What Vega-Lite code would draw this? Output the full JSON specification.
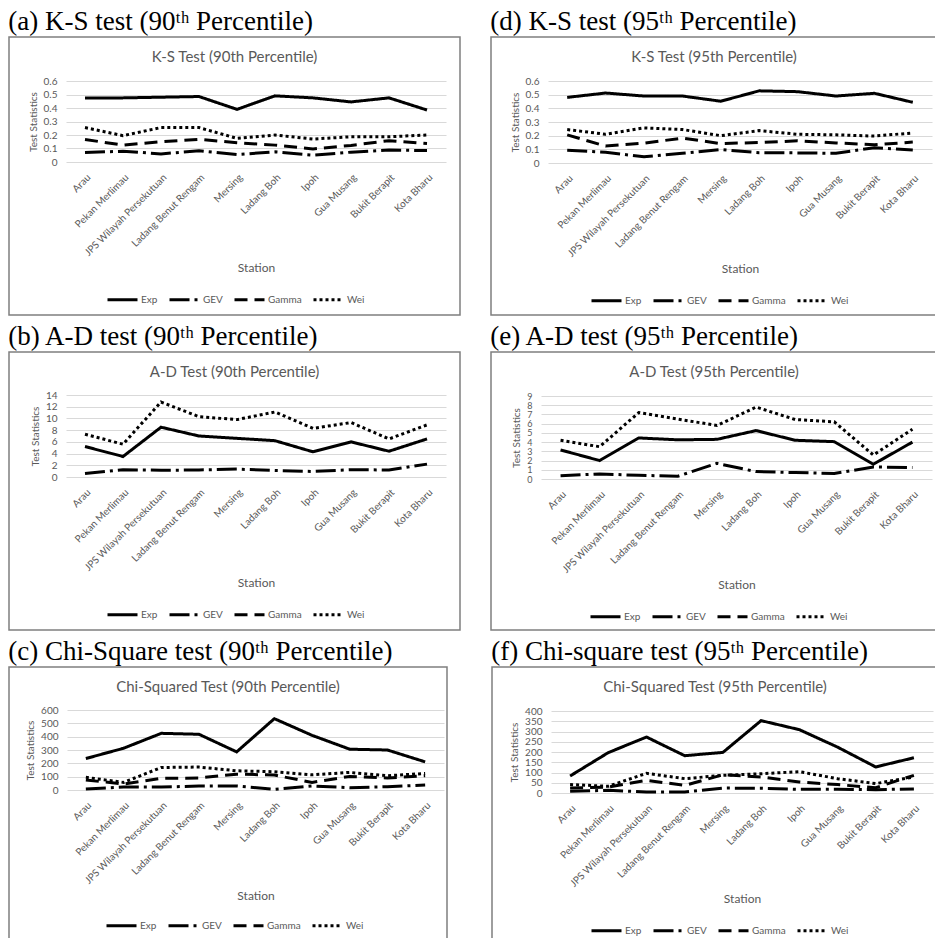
{
"$schema": "https://vega.github.io/schema/vega-lite/v6.json",
"padding": {"left": 8, "top": 8, "right": 0, "bottom": 0},
"background": "white",
"datasets": {
"ks90": [
{"station":"Arau","dist":"Exp","value":0.475},{"station":"Pekan Merlimau","dist":"Exp","value":0.475},{"station":"JPS Wilayah Persekutuan","dist":"Exp","value":0.48},{"station":"Ladang Benut Rengam","dist":"Exp","value":0.485},{"station":"Mersing","dist":"Exp","value":0.39},{"station":"Ladang Boh","dist":"Exp","value":0.49},{"station":"Ipoh","dist":"Exp","value":0.475},{"station":"Gua Musang","dist":"Exp","value":0.445},{"station":"Bukit Berapit","dist":"Exp","value":0.475},{"station":"Kota Bharu","dist":"Exp","value":0.385},
{"station":"Arau","dist":"GEV","value":0.07},{"station":"Pekan Merlimau","dist":"GEV","value":0.08},{"station":"JPS Wilayah Persekutuan","dist":"GEV","value":0.06},{"station":"Ladang Benut Rengam","dist":"GEV","value":0.083},{"station":"Mersing","dist":"GEV","value":0.055},{"station":"Ladang Boh","dist":"GEV","value":0.075},{"station":"Ipoh","dist":"GEV","value":0.05},{"station":"Gua Musang","dist":"GEV","value":0.073},{"station":"Bukit Berapit","dist":"GEV","value":0.088},{"station":"Kota Bharu","dist":"GEV","value":0.085},
{"station":"Arau","dist":"Gamma","value":0.167},{"station":"Pekan Merlimau","dist":"Gamma","value":0.125},{"station":"JPS Wilayah Persekutuan","dist":"Gamma","value":0.15},{"station":"Ladang Benut Rengam","dist":"Gamma","value":0.168},{"station":"Mersing","dist":"Gamma","value":0.143},{"station":"Ladang Boh","dist":"Gamma","value":0.125},{"station":"Ipoh","dist":"Gamma","value":0.097},{"station":"Gua Musang","dist":"Gamma","value":0.123},{"station":"Bukit Berapit","dist":"Gamma","value":0.158},{"station":"Kota Bharu","dist":"Gamma","value":0.137},
{"station":"Arau","dist":"Wei","value":0.255},{"station":"Pekan Merlimau","dist":"Wei","value":0.195},{"station":"JPS Wilayah Persekutuan","dist":"Wei","value":0.255},{"station":"Ladang Benut Rengam","dist":"Wei","value":0.255},{"station":"Mersing","dist":"Wei","value":0.175},{"station":"Ladang Boh","dist":"Wei","value":0.2},{"station":"Ipoh","dist":"Wei","value":0.17},{"station":"Gua Musang","dist":"Wei","value":0.187},{"station":"Bukit Berapit","dist":"Wei","value":0.187},{"station":"Kota Bharu","dist":"Wei","value":0.2}
],
"ks95": [
{"station":"Arau","dist":"Exp","value":0.48},{"station":"Pekan Merlimau","dist":"Exp","value":0.512},{"station":"JPS Wilayah Persekutuan","dist":"Exp","value":0.49},{"station":"Ladang Benut Rengam","dist":"Exp","value":0.49},{"station":"Mersing","dist":"Exp","value":0.452},{"station":"Ladang Boh","dist":"Exp","value":0.528},{"station":"Ipoh","dist":"Exp","value":0.522},{"station":"Gua Musang","dist":"Exp","value":0.49},{"station":"Bukit Berapit","dist":"Exp","value":0.51},{"station":"Kota Bharu","dist":"Exp","value":0.444},
{"station":"Arau","dist":"GEV","value":0.094},{"station":"Pekan Merlimau","dist":"GEV","value":0.079},{"station":"JPS Wilayah Persekutuan","dist":"GEV","value":0.045},{"station":"Ladang Benut Rengam","dist":"GEV","value":0.071},{"station":"Mersing","dist":"GEV","value":0.098},{"station":"Ladang Boh","dist":"GEV","value":0.075},{"station":"Ipoh","dist":"GEV","value":0.074},{"station":"Gua Musang","dist":"GEV","value":0.071},{"station":"Bukit Berapit","dist":"GEV","value":0.112},{"station":"Kota Bharu","dist":"GEV","value":0.096},
{"station":"Arau","dist":"Gamma","value":0.206},{"station":"Pekan Merlimau","dist":"Gamma","value":0.124},{"station":"JPS Wilayah Persekutuan","dist":"Gamma","value":0.145},{"station":"Ladang Benut Rengam","dist":"Gamma","value":0.182},{"station":"Mersing","dist":"Gamma","value":0.142},{"station":"Ladang Boh","dist":"Gamma","value":0.15},{"station":"Ipoh","dist":"Gamma","value":0.162},{"station":"Gua Musang","dist":"Gamma","value":0.147},{"station":"Bukit Berapit","dist":"Gamma","value":0.133},{"station":"Kota Bharu","dist":"Gamma","value":0.153},
{"station":"Arau","dist":"Wei","value":0.245},{"station":"Pekan Merlimau","dist":"Wei","value":0.21},{"station":"JPS Wilayah Persekutuan","dist":"Wei","value":0.257},{"station":"Ladang Benut Rengam","dist":"Wei","value":0.245},{"station":"Mersing","dist":"Wei","value":0.2},{"station":"Ladang Boh","dist":"Wei","value":0.237},{"station":"Ipoh","dist":"Wei","value":0.21},{"station":"Gua Musang","dist":"Wei","value":0.206},{"station":"Bukit Berapit","dist":"Wei","value":0.197},{"station":"Kota Bharu","dist":"Wei","value":0.22}
],
"ad90": [
{"station":"Arau","dist":"Exp","value":5.2},{"station":"Pekan Merlimau","dist":"Exp","value":3.5},{"station":"JPS Wilayah Persekutuan","dist":"Exp","value":8.5},{"station":"Ladang Benut Rengam","dist":"Exp","value":7.0},{"station":"Mersing","dist":"Exp","value":6.6},{"station":"Ladang Boh","dist":"Exp","value":6.2},{"station":"Ipoh","dist":"Exp","value":4.3},{"station":"Gua Musang","dist":"Exp","value":6.0},{"station":"Bukit Berapit","dist":"Exp","value":4.4},{"station":"Kota Bharu","dist":"Exp","value":6.5},
{"station":"Arau","dist":"GEV","value":0.6},{"station":"Pekan Merlimau","dist":"GEV","value":1.25},{"station":"JPS Wilayah Persekutuan","dist":"GEV","value":1.15},{"station":"Ladang Benut Rengam","dist":"GEV","value":1.2},{"station":"Mersing","dist":"GEV","value":1.35},{"station":"Ladang Boh","dist":"GEV","value":1.1},{"station":"Ipoh","dist":"GEV","value":0.95},{"station":"Gua Musang","dist":"GEV","value":1.25},{"station":"Bukit Berapit","dist":"GEV","value":1.2},{"station":"Kota Bharu","dist":"GEV","value":2.2},
{"station":"Arau","dist":"Wei","value":7.3},{"station":"Pekan Merlimau","dist":"Wei","value":5.6},{"station":"JPS Wilayah Persekutuan","dist":"Wei","value":12.8},{"station":"Ladang Benut Rengam","dist":"Wei","value":10.3},{"station":"Mersing","dist":"Wei","value":9.8},{"station":"Ladang Boh","dist":"Wei","value":11.1},{"station":"Ipoh","dist":"Wei","value":8.3},{"station":"Gua Musang","dist":"Wei","value":9.3},{"station":"Bukit Berapit","dist":"Wei","value":6.5},{"station":"Kota Bharu","dist":"Wei","value":8.9}
],
"ad95": [
{"station":"Arau","dist":"Exp","value":3.15},{"station":"Pekan Merlimau","dist":"Exp","value":2.0},{"station":"JPS Wilayah Persekutuan","dist":"Exp","value":4.45},{"station":"Ladang Benut Rengam","dist":"Exp","value":4.25},{"station":"Mersing","dist":"Exp","value":4.3},{"station":"Ladang Boh","dist":"Exp","value":5.25},{"station":"Ipoh","dist":"Exp","value":4.2},{"station":"Gua Musang","dist":"Exp","value":4.05},{"station":"Bukit Berapit","dist":"Exp","value":1.6},{"station":"Kota Bharu","dist":"Exp","value":4.0},
{"station":"Arau","dist":"GEV","value":0.35},{"station":"Pekan Merlimau","dist":"GEV","value":0.55},{"station":"JPS Wilayah Persekutuan","dist":"GEV","value":0.4},{"station":"Ladang Benut Rengam","dist":"GEV","value":0.3},{"station":"Mersing","dist":"GEV","value":1.7},{"station":"Ladang Boh","dist":"GEV","value":0.8},{"station":"Ipoh","dist":"GEV","value":0.7},{"station":"Gua Musang","dist":"GEV","value":0.6},{"station":"Bukit Berapit","dist":"GEV","value":1.3},{"station":"Kota Bharu","dist":"GEV","value":1.25},
{"station":"Arau","dist":"Wei","value":4.2},{"station":"Pekan Merlimau","dist":"Wei","value":3.5},{"station":"JPS Wilayah Persekutuan","dist":"Wei","value":7.2},{"station":"Ladang Benut Rengam","dist":"Wei","value":6.5},{"station":"Mersing","dist":"Wei","value":5.8},{"station":"Ladang Boh","dist":"Wei","value":7.8},{"station":"Ipoh","dist":"Wei","value":6.45},{"station":"Gua Musang","dist":"Wei","value":6.2},{"station":"Bukit Berapit","dist":"Wei","value":2.6},{"station":"Kota Bharu","dist":"Wei","value":5.4}
],
"cs90": [
{"station":"Arau","dist":"Exp","value":236},{"station":"Pekan Merlimau","dist":"Exp","value":313},{"station":"JPS Wilayah Persekutuan","dist":"Exp","value":425},{"station":"Ladang Benut Rengam","dist":"Exp","value":418},{"station":"Mersing","dist":"Exp","value":286},{"station":"Ladang Boh","dist":"Exp","value":535},{"station":"Ipoh","dist":"Exp","value":410},{"station":"Gua Musang","dist":"Exp","value":306},{"station":"Bukit Berapit","dist":"Exp","value":300},{"station":"Kota Bharu","dist":"Exp","value":211},
{"station":"Arau","dist":"GEV","value":8},{"station":"Pekan Merlimau","dist":"GEV","value":22},{"station":"JPS Wilayah Persekutuan","dist":"GEV","value":22},{"station":"Ladang Benut Rengam","dist":"GEV","value":30},{"station":"Mersing","dist":"GEV","value":30},{"station":"Ladang Boh","dist":"GEV","value":5},{"station":"Ipoh","dist":"GEV","value":30},{"station":"Gua Musang","dist":"GEV","value":17},{"station":"Bukit Berapit","dist":"GEV","value":25},{"station":"Kota Bharu","dist":"GEV","value":37},
{"station":"Arau","dist":"Gamma","value":75},{"station":"Pekan Merlimau","dist":"Gamma","value":45},{"station":"JPS Wilayah Persekutuan","dist":"Gamma","value":87},{"station":"Ladang Benut Rengam","dist":"Gamma","value":90},{"station":"Mersing","dist":"Gamma","value":119},{"station":"Ladang Boh","dist":"Gamma","value":112},{"station":"Ipoh","dist":"Gamma","value":57},{"station":"Gua Musang","dist":"Gamma","value":102},{"station":"Bukit Berapit","dist":"Gamma","value":90},{"station":"Kota Bharu","dist":"Gamma","value":107},
{"station":"Arau","dist":"Wei","value":95},{"station":"Pekan Merlimau","dist":"Wei","value":57},{"station":"JPS Wilayah Persekutuan","dist":"Wei","value":169},{"station":"Ladang Benut Rengam","dist":"Wei","value":172},{"station":"Mersing","dist":"Wei","value":144},{"station":"Ladang Boh","dist":"Wei","value":137},{"station":"Ipoh","dist":"Wei","value":114},{"station":"Gua Musang","dist":"Wei","value":132},{"station":"Bukit Berapit","dist":"Wei","value":107},{"station":"Kota Bharu","dist":"Wei","value":124}
],
"cs95": [
{"station":"Arau","dist":"Exp","value":83},{"station":"Pekan Merlimau","dist":"Exp","value":197},{"station":"JPS Wilayah Persekutuan","dist":"Exp","value":273},{"station":"Ladang Benut Rengam","dist":"Exp","value":182},{"station":"Mersing","dist":"Exp","value":198},{"station":"Ladang Boh","dist":"Exp","value":353},{"station":"Ipoh","dist":"Exp","value":309},{"station":"Gua Musang","dist":"Exp","value":224},{"station":"Bukit Berapit","dist":"Exp","value":127},{"station":"Kota Bharu","dist":"Exp","value":172},
{"station":"Arau","dist":"GEV","value":8},{"station":"Pekan Merlimau","dist":"GEV","value":13},{"station":"JPS Wilayah Persekutuan","dist":"GEV","value":5},{"station":"Ladang Benut Rengam","dist":"GEV","value":5},{"station":"Mersing","dist":"GEV","value":24},{"station":"Ladang Boh","dist":"GEV","value":23},{"station":"Ipoh","dist":"GEV","value":18},{"station":"Gua Musang","dist":"GEV","value":18},{"station":"Bukit Berapit","dist":"GEV","value":16},{"station":"Kota Bharu","dist":"GEV","value":20},
{"station":"Arau","dist":"Gamma","value":24},{"station":"Pekan Merlimau","dist":"Gamma","value":29},{"station":"JPS Wilayah Persekutuan","dist":"Gamma","value":62},{"station":"Ladang Benut Rengam","dist":"Gamma","value":37},{"station":"Mersing","dist":"Gamma","value":89},{"station":"Ladang Boh","dist":"Gamma","value":78},{"station":"Ipoh","dist":"Gamma","value":54},{"station":"Gua Musang","dist":"Gamma","value":41},{"station":"Bukit Berapit","dist":"Gamma","value":26},{"station":"Kota Bharu","dist":"Gamma","value":86},
{"station":"Arau","dist":"Wei","value":41},{"station":"Pekan Merlimau","dist":"Wei","value":33},{"station":"JPS Wilayah Persekutuan","dist":"Wei","value":96},{"station":"Ladang Benut Rengam","dist":"Wei","value":70},{"station":"Mersing","dist":"Wei","value":86},{"station":"Ladang Boh","dist":"Wei","value":94},{"station":"Ipoh","dist":"Wei","value":104},{"station":"Gua Musang","dist":"Wei","value":70},{"station":"Bukit Berapit","dist":"Wei","value":46},{"station":"Kota Bharu","dist":"Wei","value":78}
]
},
"config": {
"font": "Lato",
"axis": {"domain": false, "ticks": false, "labelFont": "Lato", "labelFontSize": 10, "labelColor": "#595959", "titleFont": "Lato", "titleFontWeight": "normal", "titleColor": "#595959", "gridColor": "#d9d9d9", "gridWidth": 1},
"axisX": {"grid": false, "labelAngle": -45, "labelPadding": 10, "titleFontSize": 12, "titlePadding": 5},
"axisY": {"grid": true, "labelPadding": 9, "titleFontSize": 10, "titlePadding": 5, "labelOverlap": false},
"legend": {"direction": "horizontal", "columns": 4, "symbolType": "stroke", "symbolSize": 900, "symbolStrokeWidth": 3, "symbolStrokeColor": "black", "labelFontSize": 10, "labelColor": "#595959", "labelFont": "Lato", "columnPadding": 5, "labelOffset": 2}
},
"spacing": 7,
"resolve": {"scale": {"strokeDash": "independent"}, "legend": {"strokeDash": "independent"}},
"vconcat": [
{"spacing": 29, "resolve": {"scale": {"strokeDash": "independent"}, "legend": {"strokeDash": "independent"}},
 "hconcat": [
 {"title": {"text": "(a)  K-S test (90ᵗʰ Percentile)", "anchor": "start", "font": "Liberation Serif", "fontSize": 27, "fontWeight": "normal", "color": "black", "offset": 0},
  "resolve": {"scale": {"strokeDash": "independent"}, "legend": {"strokeDash": "independent"}},
  "vconcat": [{
   "width": 451, "height": 278,
   "view": {"stroke": "#7f7f7f", "strokeWidth": 1.5, "fill": "white"},
   "title": {"text": "K-S Test (90th Percentile)", "anchor": "middle", "font": "Lato", "fontSize": 15, "fontWeight": "normal", "color": "#595959", "offset": -28},
   "data": {"name": "ks90"},
   "mark": {"type": "line", "color": "black", "strokeWidth": 3},
   "encoding": {
    "x": {"field": "station", "type": "nominal", "sort": ["Arau","Pekan Merlimau","JPS Wilayah Persekutuan","Ladang Benut Rengam","Mersing","Ladang Boh","Ipoh","Gua Musang","Bukit Berapit","Kota Bharu"], "scale": {"type": "point", "padding": 0.5, "range": [57, 437]}, "axis": {"offset": -153, "title": "Station"}},
    "y": {"field": "value", "type": "quantitative", "scale": {"domain": [0, 0.6], "nice": false, "range": [125, 44]}, "axis": {"offset": -57, "values": [0,0.1,0.2,0.3,0.4,0.5,0.6], "format": ".1~f", "title": "Test Statistics"}},
    "strokeDash": {"field": "dist", "type": "nominal", "scale": {"domain": ["Exp","GEV","Gamma","Wei"], "range": [[1,0],[20,5,3,5],[13,7],[3,3]]}, "legend": {"title": null, "orient": "none", "legendX": 97, "legendY": 246}}
   }
  }]
 },
 {"title": {"text": "(d) K-S test (95ᵗʰ Percentile)", "anchor": "start", "font": "Liberation Serif", "fontSize": 27, "fontWeight": "normal", "color": "black", "offset": 0},
  "resolve": {"scale": {"strokeDash": "independent"}, "legend": {"strokeDash": "independent"}},
  "vconcat": [{
   "width": 446, "height": 278,
   "view": {"stroke": "#7f7f7f", "strokeWidth": 1.5, "fill": "white"},
   "title": {"text": "K-S Test (95th Percentile)", "anchor": "middle", "font": "Lato", "fontSize": 15, "fontWeight": "normal", "color": "#595959", "offset": -28},
   "data": {"name": "ks95"},
   "mark": {"type": "line", "color": "black", "strokeWidth": 3},
   "encoding": {
    "x": {"field": "station", "type": "nominal", "sort": ["Arau","Pekan Merlimau","JPS Wilayah Persekutuan","Ladang Benut Rengam","Mersing","Ladang Boh","Ipoh","Gua Musang","Bukit Berapit","Kota Bharu"], "scale": {"type": "point", "padding": 0.5, "range": [57, 441]}, "axis": {"offset": -152, "title": "Station"}},
    "y": {"field": "value", "type": "quantitative", "scale": {"domain": [0, 0.6], "nice": false, "range": [126, 44]}, "axis": {"offset": -57, "values": [0,0.1,0.2,0.3,0.4,0.5,0.6], "format": ".1~f", "title": "Test Statistics"}},
    "strokeDash": {"field": "dist", "type": "nominal", "scale": {"domain": ["Exp","GEV","Gamma","Wei"], "range": [[1,0],[20,5,3,5],[13,7],[3,3]]}, "legend": {"title": null, "orient": "none", "legendX": 99, "legendY": 247}}
   }
  }]
 }
 ]
},
{"spacing": 29, "resolve": {"scale": {"strokeDash": "independent"}, "legend": {"strokeDash": "independent"}},
 "hconcat": [
 {"title": {"text": "(b)  A-D test (90ᵗʰ Percentile)", "anchor": "start", "font": "Liberation Serif", "fontSize": 27, "fontWeight": "normal", "color": "black", "offset": 0},
  "resolve": {"scale": {"strokeDash": "independent"}, "legend": {"strokeDash": "independent"}},
  "vconcat": [{
   "width": 451, "height": 278,
   "view": {"stroke": "#7f7f7f", "strokeWidth": 1.5, "fill": "white"},
   "title": {"text": "A-D Test (90th Percentile)", "anchor": "middle", "font": "Lato", "fontSize": 15, "fontWeight": "normal", "color": "#595959", "offset": -28},
   "data": {"name": "ad90"},
   "mark": {"type": "line", "color": "black", "strokeWidth": 3},
   "encoding": {
    "x": {"field": "station", "type": "nominal", "sort": ["Arau","Pekan Merlimau","JPS Wilayah Persekutuan","Ladang Benut Rengam","Mersing","Ladang Boh","Ipoh","Gua Musang","Bukit Berapit","Kota Bharu"], "scale": {"type": "point", "padding": 0.5, "range": [57, 437]}, "axis": {"offset": -153, "title": "Station"}},
    "y": {"field": "value", "type": "quantitative", "scale": {"domain": [0, 14], "nice": false, "range": [125, 43]}, "axis": {"offset": -57, "values": [0,2,4,6,8,10,12,14], "format": "d", "title": "Test Statistics"}},
    "strokeDash": {"field": "dist", "type": "nominal", "scale": {"domain": ["Exp","GEV","Gamma","Wei"], "range": [[1,0],[20,5,3,5],[13,7],[3,3]]}, "legend": {"title": null, "orient": "none", "legendX": 97, "legendY": 246}}
   }
  }]
 },
 {"title": {"text": "(e) A-D test  (95ᵗʰ Percentile)", "anchor": "start", "font": "Liberation Serif", "fontSize": 27, "fontWeight": "normal", "color": "black", "offset": 0},
  "resolve": {"scale": {"strokeDash": "independent"}, "legend": {"strokeDash": "independent"}},
  "vconcat": [{
   "width": 446, "height": 278,
   "view": {"stroke": "#7f7f7f", "strokeWidth": 1.5, "fill": "white"},
   "title": {"text": "A-D Test (95th Percentile)", "anchor": "middle", "font": "Lato", "fontSize": 15, "fontWeight": "normal", "color": "#595959", "offset": -28},
   "data": {"name": "ad95"},
   "mark": {"type": "line", "color": "black", "strokeWidth": 3},
   "encoding": {
    "x": {"field": "station", "type": "nominal", "sort": ["Arau","Pekan Merlimau","JPS Wilayah Persekutuan","Ladang Benut Rengam","Mersing","Ladang Boh","Ipoh","Gua Musang","Bukit Berapit","Kota Bharu"], "scale": {"type": "point", "padding": 0.5, "range": [50, 441]}, "axis": {"offset": -151, "title": "Station"}},
    "y": {"field": "value", "type": "quantitative", "scale": {"domain": [0, 9], "nice": false, "range": [127, 44]}, "axis": {"offset": -50, "values": [0,1,2,3,4,5,6,7,8,9], "format": "d", "labelFontSize": 9, "title": "Test Statistics"}},
    "strokeDash": {"field": "dist", "type": "nominal", "scale": {"domain": ["Exp","GEV","Gamma","Wei"], "range": [[1,0],[20,5,3,5],[13,7],[3,3]]}, "legend": {"title": null, "orient": "none", "legendX": 98, "legendY": 248}}
   }
  }]
 }
 ]
},
{"spacing": 43, "resolve": {"scale": {"strokeDash": "independent"}, "legend": {"strokeDash": "independent"}},
 "hconcat": [
 {"title": {"text": "(c)  Chi-Square test (90ᵗʰ Percentile)", "anchor": "start", "font": "Liberation Serif", "fontSize": 27, "fontWeight": "normal", "color": "black", "offset": 0},
  "resolve": {"scale": {"strokeDash": "independent"}, "legend": {"strokeDash": "independent"}},
  "vconcat": [{
   "width": 438, "height": 273,
   "view": {"stroke": "#7f7f7f", "strokeWidth": 1.5, "fill": "white"},
   "title": {"text": "Chi-Squared Test (90th Percentile)", "anchor": "middle", "font": "Lato", "fontSize": 15, "fontWeight": "normal", "color": "#595959", "offset": -28},
   "data": {"name": "cs90"},
   "mark": {"type": "line", "color": "black", "strokeWidth": 3},
   "encoding": {
    "x": {"field": "station", "type": "nominal", "sort": ["Arau","Pekan Merlimau","JPS Wilayah Persekutuan","Ladang Benut Rengam","Mersing","Ladang Boh","Ipoh","Gua Musang","Bukit Berapit","Kota Bharu"], "scale": {"type": "point", "padding": 0.5, "range": [58, 435]}, "axis": {"offset": -150, "title": "Station"}},
    "y": {"field": "value", "type": "quantitative", "scale": {"domain": [0, 600], "nice": false, "range": [123, 43]}, "axis": {"offset": -58, "values": [0,100,200,300,400,500,600], "format": "d", "title": "Test Statistics"}},
    "strokeDash": {"field": "dist", "type": "nominal", "scale": {"domain": ["Exp","GEV","Gamma","Wei"], "range": [[1,0],[20,5,3,5],[13,7],[3,3]]}, "legend": {"title": null, "orient": "none", "legendX": 96, "legendY": 242}}
   }
  }]
 },
 {"title": {"text": "(f) Chi-square test (95ᵗʰ Percentile)", "anchor": "start", "font": "Liberation Serif", "fontSize": 27, "fontWeight": "normal", "color": "black", "offset": 0},
  "resolve": {"scale": {"strokeDash": "independent"}, "legend": {"strokeDash": "independent"}},
  "vconcat": [{
   "width": 446, "height": 273,
   "view": {"stroke": "#7f7f7f", "strokeWidth": 1.5, "fill": "white"},
   "title": {"text": "Chi-Squared Test (95th Percentile)", "anchor": "middle", "font": "Lato", "fontSize": 15, "fontWeight": "normal", "color": "#595959", "offset": -28},
   "data": {"name": "cs95"},
   "mark": {"type": "line", "color": "black", "strokeWidth": 3},
   "encoding": {
    "x": {"field": "station", "type": "nominal", "sort": ["Arau","Pekan Merlimau","JPS Wilayah Persekutuan","Ladang Benut Rengam","Mersing","Ladang Boh","Ipoh","Gua Musang","Bukit Berapit","Kota Bharu"], "scale": {"type": "point", "padding": 0.5, "range": [59, 441]}, "axis": {"offset": -147, "title": "Station"}},
    "y": {"field": "value", "type": "quantitative", "scale": {"domain": [0, 400], "nice": false, "range": [126, 44]}, "axis": {"offset": -59, "values": [0,50,100,150,200,250,300,350,400], "format": "d", "title": "Test Statistics"}},
    "strokeDash": {"field": "dist", "type": "nominal", "scale": {"domain": ["Exp","GEV","Gamma","Wei"], "range": [[1,0],[20,5,3,5],[13,7],[3,3]]}, "legend": {"title": null, "orient": "none", "legendX": 98, "legendY": 247}}
   }
  }]
 }
 ]
}
]
}
